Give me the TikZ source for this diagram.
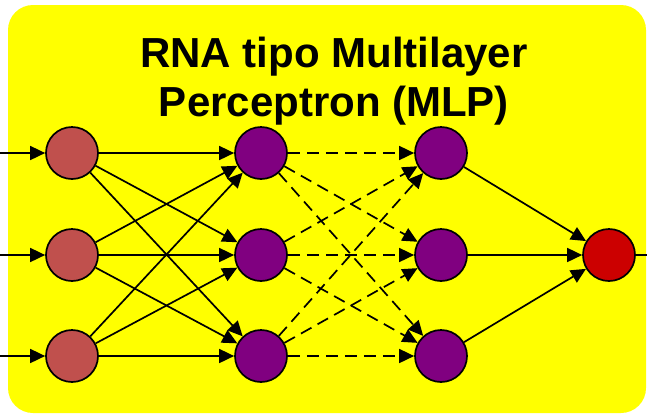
\documentclass[tikz,border=0pt]{standalone}
\usepackage{fontspec}
\setmainfont{Liberation Sans}
\usetikzlibrary{positioning,arrows.meta}
\definecolor{PanelYellow}{RGB}{255,255,0}
\definecolor{InputRed}{RGB}{192,80,77}
\definecolor{HiddenPurple}{RGB}{128,0,128}
\definecolor{OutputRed}{RGB}{204,0,0}
\tikzset{
  link/.style={-{Triangle[length=15pt,width=14pt]},line width=1.7pt},
  dashlink/.style={link,dash pattern=on 12pt off 7pt},
  neuron/.style={circle,draw,line width=1.7pt,minimum size=52pt,inner sep=0pt},
  inneuron/.style={neuron,fill=InputRed},
  hidneuron/.style={neuron,fill=HiddenPurple},
  outneuron/.style={neuron,fill=OutputRed},
  title/.style={align=center,inner sep=0pt,font=\fontsize{42}{49}\selectfont\bfseries}
}

\begin{document}
\begin{tikzpicture}[x=1pt,y=-1pt]
  \useasboundingbox (0,0) rectangle (647,416);
  \fill[PanelYellow,rounded corners=25pt] (8,5) rectangle (646,413);
  \node[title] (head) at (334,81) {RNA tipo Multilayer\\Perceptron (MLP)};
  % layers
  \node[inneuron] (in1) at (72,153) {};
  \node[inneuron] (in2) at (72,255) {};
  \node[inneuron] (in3) at (72,356) {};
  \node[hidneuron] (ha1) at (261,153) {};
  \node[hidneuron] (ha2) at (261,255) {};
  \node[hidneuron] (ha3) at (261,356) {};
  \node[hidneuron] (hb1) at (441,153) {};
  \node[hidneuron] (hb2) at (441,255) {};
  \node[hidneuron] (hb3) at (441,356) {};
  \node[outneuron] (out) at (609,255) {};
  \coordinate (src1) at (0,153);
  \coordinate (src2) at (0,255);
  \coordinate (src3) at (0,356);
  \coordinate (sink) at (647,255);
  % connections
  \foreach \i in {1,2,3} {
    \draw[link] (src\i) -- (in\i);
    \draw[link] (hb\i) -- (out);
    \foreach \j in {1,2,3} {
      \draw[link] (in\i) -- (ha\j);
      \draw[dashlink] (ha\i) -- (hb\j);
    }
  }
  \draw[line width=1.7pt] (out) -- (sink);
\end{tikzpicture}
\end{document}
